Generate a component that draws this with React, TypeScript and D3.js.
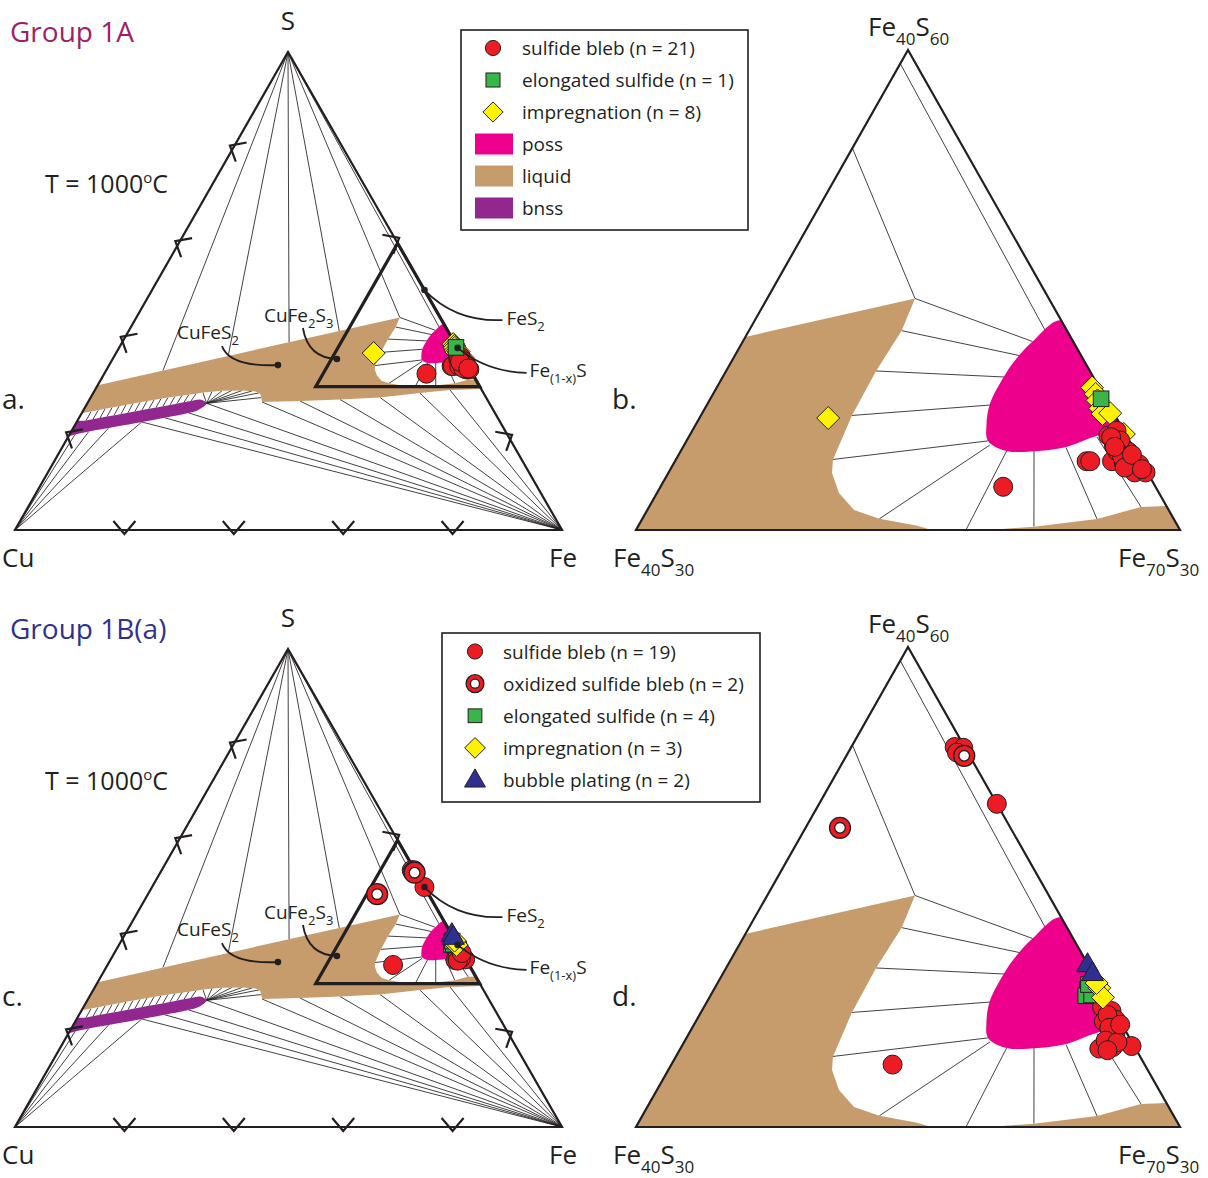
import React from 'react';
import * as d3 from 'd3';

// Compositions are [Fe, S] in wt.%; Cu is the remainder.
type Comp = [number, number];
type Pt = [number, number];

const INK = '#231f20';
const FONT = "'Open Sans', 'Noto Sans', 'DejaVu Sans', sans-serif";
const FILL = {
  bleb: '#ed1c24',
  elongated: '#39b54a',
  impregnation: '#fff200',
  bubble: '#2e3192',
  poss: '#ec008c',
  liquid: '#c69c6d',
  bnss: '#92278f',
};

// ---------- Cu–Fe–S phase relations at 1000 °C ----------
const liquidField: Comp[] = [
  [0, 30.3], [48.15, 44.47], [48.42, 42.46], [48.27, 39.94], [48.33, 37.16], [48.66, 34.41],
  [49.03, 33.56], [50.04, 32.31], [51.4, 31.25], [53.07, 30.7], [55.3, 30.28], [56.2, 30.03],
  [57.8, 29.8], [59.5, 30.0], [61.84, 30.21], [65.08, 30.69], [67.13, 31.44], [68.5, 31.5],
  [70.5, 29.5], [64.9, 29.29], [59.7, 28.66], [52.9, 27.72], [45.8, 27.3], [38.63, 26.99],
  [31.8, 26.78], [31.2, 27.7], [30.6, 28.5], [29.5, 29.0], [26.95, 29.2], [23.3, 29.12],
  [20.0, 28.77], [18.86, 28.51], [14.13, 27.72], [9.51, 26.74], [4.95, 25.61], [0, 24.4],
];

const possField: Comp[] = [
  [56.9, 43.1], [55.98, 41.78], [55.6, 40.6], [55.5, 39.71], [55.57, 37.9], [56.06, 36.53],
  [56.63, 35.57], [57.97, 34.94], [59.7, 34.94], [61.03, 35.15], [62.48, 35.89], [63.35, 36.12],
  [63.6, 36.4], [60.2, 39.8],
];

const bnssField: Comp[] = [
  [-1.5, 22.5], [1.56, 22.89], [4.98, 23.72], [8.41, 24.54], [11.84, 25.36], [15.28, 26.17],
  [18.71, 26.99], [20.4, 27.25], [21.8, 26.5], [21.0, 25.1], [19.5, 24.5], [15.6, 23.5],
  [11.9, 22.6], [8.0, 21.7], [4.5, 20.9], [1.0, 20.0], [-1.5, 19.4],
];

// tie lines from the S apex to the liquid / poss
const sulfurTieEnds: Comp[] = [
  [10.4, 33.36], [20.8, 36.42], [30.5, 39.28], [38.5, 41.63], [48.15, 44.47], [56.4, 42.4],
];

// liquid – poss tie lines
const liquidPossTies: [Comp, Comp][] = [
  [[48.15, 44.47], [55.98, 41.78]],
  [[48.42, 42.46], [55.8, 40.88]],
  [[48.27, 39.94], [55.57, 39.56]],
  [[48.33, 37.16], [55.62, 37.81]],
  [[48.66, 34.41], [56.63, 35.57]],
  [[53.07, 30.7], [56.86, 35.31]],
  [[58.2, 29.9], [57.97, 34.94]],
  [[61.84, 30.21], [59.48, 34.94]],
  [[65.08, 30.69], [61.14, 35.15]],
  [[67.13, 31.44], [62.52, 35.81]],
];

// bnss – liquid tie lines
const bnssLiquidTies: [Comp, Comp][] = [
  [[1.56, 22.89], [1.55, 24.73]], [[2.7, 23.16], [2.69, 25.02]], [[3.85, 23.43], [3.82, 25.31]],
  [[4.98, 23.72], [4.95, 25.61]], [[6.12, 24.0], [6.09, 25.9]], [[7.27, 24.27], [7.22, 26.19]],
  [[8.41, 24.54], [8.35, 26.49]], [[9.56, 24.81], [9.51, 26.74]], [[10.7, 25.08], [10.66, 26.99]],
  [[11.84, 25.36], [11.82, 27.24]], [[12.99, 25.63], [12.98, 27.47]], [[14.13, 25.9], [14.13, 27.72]],
  [[15.28, 26.17], [15.29, 27.97]], [[16.42, 26.44], [16.46, 28.2]], [[17.56, 26.72], [17.65, 28.37]],
  [[18.71, 26.99], [18.86, 28.51]],
];
const bnssTip: Comp = [21.8, 26.5];
const bnssTipTieEnds: Comp[] = [
  [20.0, 28.77], [21.55, 28.97], [23.3, 29.12], [25.1, 29.22], [26.95, 29.2], [28.8, 29.05],
  [30.35, 28.7], [31.2, 27.7],
];

// tie lines to the Fe and Cu apices
const ironTieEnds: Comp[] = [
  [11.9, 22.6], [15.6, 23.5], [19.5, 24.5], [21.8, 26.5], [31.8, 26.78], [38.63, 26.99],
  [45.8, 27.3], [52.9, 27.72], [59.7, 28.66], [64.9, 29.29],
];
const copperTieEnds: Comp[] = [[1.0, 20.0], [3.2, 20.6], [6.45, 21.3], [11.9, 22.6]];

// reference minerals
const mineralNames = ['CuFeS2', 'CuFe2S3', 'FeS2', 'Fe(1-x)S'];
const mineralComps: Comp[] = [[30.85, 34.5], [41.0, 35.77], [49.8, 50.2], [61.9, 38.1]];

// arrows on the binary joins
const chevronSites: Comp[] = [
  [0, 20], [0, 40], [0, 60], [0, 80], [20, 0], [40, 0], [60, 0], [80, 0], [80.5, 19.5], [39.3, 60.7],
];

// ---------- Group 1A analyses ----------
const bleb1A: Comp[] = [
  [58.9, 32.7], [62.7, 34.3], [62.9, 34.3], [63.1, 35.9], [63.4, 36.2], [63.7, 35.3], [64.1, 34.3],
  [64.7, 34.9], [65.1, 34.3], [64.8, 34.2], [65.7, 34.1], [65.7, 33.6], [66.3, 33.6], [63.9, 35.6],
  [64.1, 34.9], [64.5, 34.6], [65.0, 33.9], [63.3, 35.8], [65.0, 34.7], [63.8, 35.2], [66.0, 33.8],
];
const elongated1A: Comp[] = [[61.55, 38.2]];
const impregnation1A: Comp[] = [
  [47.1, 37.0], [60.7, 38.9], [61.1, 38.5], [61.4, 38.1], [61.8, 37.6], [62.1, 37.25], [62.5, 37.3],
  [63.9, 36.0],
];

// ---------- Group 1B(a) analyses ----------
const bleb1B: Comp[] = [
  [45.7, 53.75], [46.2, 53.7], [49.8, 50.2], [52.2, 33.9], [61.95, 37.5], [62.6, 37.25], [62.5, 36.6],
  [63.1, 36.7], [63.5, 35.9], [63.1, 34.9], [63.8, 35.0], [64.8, 35.06], [62.5, 37.0], [63.0, 36.2],
  [63.2, 35.4], [46.0, 53.4], [63.9, 35.3], [63.6, 34.8], [63.5, 36.4],
];
const oxidized1B: Comp[] = [[46.5, 53.2], [41.9, 48.7]];
const elongated1B: Comp[] = [[60.6, 38.6], [60.7, 38.2], [61.0, 38.25], [60.5, 38.9]];
const impregnation1B: Comp[] = [[61.2, 38.7], [61.7, 38.1], [60.9, 39.0]];
const bubble1B: Comp[] = [[59.85, 40.1], [60.4, 39.55]];

type Kind = 'bleb' | 'oxidized' | 'elongated' | 'impregnation' | 'bubble';
type Layer = { kind: Kind; pts: Comp[] };

const group1A: Layer[] = [
  { kind: 'impregnation', pts: impregnation1A },
  { kind: 'bleb', pts: bleb1A },
  { kind: 'elongated', pts: elongated1A },
];
const group1B: Layer[] = [
  { kind: 'bleb', pts: bleb1B },
  { kind: 'oxidized', pts: oxidized1B },
  { kind: 'elongated', pts: elongated1B },
  { kind: 'impregnation', pts: impregnation1B },
  { kind: 'bubble', pts: bubble1B },
];

const legendA: { kind: Kind | 'poss' | 'liquid' | 'bnss'; label: string }[] = [
  { kind: 'bleb', label: 'sulfide bleb (n = 21)' },
  { kind: 'elongated', label: 'elongated sulfide (n = 1)' },
  { kind: 'impregnation', label: 'impregnation (n = 8)' },
  { kind: 'poss', label: 'poss' },
  { kind: 'liquid', label: 'liquid' },
  { kind: 'bnss', label: 'bnss' },
];
const legendB: { kind: Kind; label: string }[] = [
  { kind: 'bleb', label: 'sulfide bleb (n = 19)' },
  { kind: 'oxidized', label: 'oxidized sulfide bleb (n = 2)' },
  { kind: 'elongated', label: 'elongated sulfide (n = 4)' },
  { kind: 'impregnation', label: 'impregnation (n = 3)' },
  { kind: 'bubble', label: 'bubble plating (n = 2)' },
];

const fullCorners: Comp[] = [[0, 0], [100, 0], [0, 100]];
const zoomCorners: Comp[] = [[40, 30], [70, 30], [40, 60]];

// ---------- projection ----------
function makeTernary(cuCorner: Pt, feCorner: Pt, sCorner: Pt, feDomain: [number, number], sDomain: [number, number]) {
  const u = d3.scaleLinear().domain(feDomain).range([0, 1]);
  const v = d3.scaleLinear().domain(sDomain).range([0, 1]);
  return (c: Comp): Pt => {
    const a = u(c[0]);
    const b = v(c[1]);
    return [
      cuCorner[0] + (feCorner[0] - cuCorner[0]) * a + (sCorner[0] - cuCorner[0]) * b,
      cuCorner[1] + (feCorner[1] - cuCorner[1]) * a + (sCorner[1] - cuCorner[1]) * b,
    ];
  };
}
type Proj = (c: Comp) => Pt;

// ---------- marks ----------
function Marker({ kind, p, k = 1 }: { kind: Kind; p: Pt; k?: number }) {
  const [x, y] = p;
  if (kind === 'bleb') return <circle cx={x} cy={y} r={9.5 * k} fill={FILL.bleb} stroke={INK} strokeWidth={1} />;
  if (kind === 'oxidized')
    return (
      <g>
        <circle cx={x} cy={y} r={10.5 * k} fill={FILL.bleb} stroke={INK} strokeWidth={1.3} />
        <circle cx={x} cy={y} r={5.3 * k} fill="#fff" stroke={INK} strokeWidth={1.3} />
      </g>
    );
  if (kind === 'elongated') {
    const h = 7.8 * k;
    return <rect x={x - h} y={y - h} width={2 * h} height={2 * h} fill={FILL.elongated} stroke={INK} strokeWidth={1} />;
  }
  if (kind === 'impregnation') {
    const h = 11.5 * k;
    return <path d={`M${x},${y - h}L${x + h},${y}L${x},${y + h}L${x - h},${y}Z`} fill={FILL.impregnation} stroke={INK} strokeWidth={1} />;
  }
  const s = 11 * k;
  const hgt = s * Math.sqrt(3);
  return (
    <path
      d={`M${x},${y - (hgt * 2) / 3}L${x + s},${y + hgt / 3}L${x - s},${y + hgt / 3}Z`}
      fill={FILL.bubble}
      stroke={INK}
      strokeWidth={1}
      strokeLinejoin="round"
    />
  );
}

function Fields({ proj, clipId }: { proj: Proj; clipId: string }) {
  const open = d3.line<Comp>().x((c) => proj(c)[0]).y((c) => proj(c)[1]);
  const closed = d3.line<Comp>().x((c) => proj(c)[0]).y((c) => proj(c)[1]).curve(d3.curveLinearClosed);
  const smooth = d3
    .line<Comp>()
    .x((c) => proj(c)[0])
    .y((c) => proj(c)[1])
    .curve(d3.curveCatmullRomClosed.alpha(0.5));
  const apexS: Comp = [0, 100];
  const apexFe: Comp = [100, 0];
  const apexCu: Comp = [0, 0];
  const ties: [Comp, Comp][] = [
    ...sulfurTieEnds.map((e) => [apexS, e] as [Comp, Comp]),
    ...liquidPossTies,
    ...bnssLiquidTies,
    ...bnssTipTieEnds.map((e) => [bnssTip, e] as [Comp, Comp]),
    ...ironTieEnds.map((e) => [apexFe, e] as [Comp, Comp]),
    ...copperTieEnds.map((e) => [apexCu, e] as [Comp, Comp]),
  ];
  return (
    <g clipPath={`url(#${clipId})`}>
      <g fill="none" stroke={INK} strokeWidth={0.85}>
        {ties.map((t, i) => (
          <path key={i} d={open(t) || ''} />
        ))}
      </g>
      <path d={closed(liquidField) || ''} fill={FILL.liquid} />
      <path d={smooth(possField) || ''} fill={FILL.poss} />
      <path d={smooth(bnssField) || ''} fill={FILL.bnss} />
    </g>
  );
}

function Chevrons({ proj }: { proj: Proj }) {
  const [cu, fe, s] = fullCorners.map(proj);
  const g: Pt = [(cu[0] + fe[0] + s[0]) / 3, (cu[1] + fe[1] + s[1]) / 3];
  return (
    <g fill="none" stroke={INK} strokeWidth={2.2} strokeLinejoin="miter">
      {chevronSites.map((c, i) => {
        const p = proj(c);
        let a: Pt, b: Pt;
        if (c[0] === 0) [a, b] = [cu, s];
        else if (c[1] === 0) [a, b] = [cu, fe];
        else [a, b] = [fe, s];
        const len = Math.hypot(b[0] - a[0], b[1] - a[1]);
        const d: Pt = [(b[0] - a[0]) / len, (b[1] - a[1]) / len];
        let n: Pt = [-d[1], d[0]];
        if ((g[0] - p[0]) * n[0] + (g[1] - p[1]) * n[1] < 0) n = [-n[0], -n[1]];
        const arm = 11;
        const depth = 9;
        const tip = 4;
        const apex: Pt = [p[0] - n[0] * tip, p[1] - n[1] * tip];
        const l: Pt = [p[0] + n[0] * depth + d[0] * arm, p[1] + n[1] * depth + d[1] * arm];
        const r: Pt = [p[0] + n[0] * depth - d[0] * arm, p[1] + n[1] * depth - d[1] * arm];
        return <path key={i} d={`M${l}L${apex}L${r}`} />;
      })}
    </g>
  );
}

const mineralLayout: Record<string, { pieces: [string, boolean][]; text: Pt; curve: (d: Pt) => string }> = {
  CuFeS2: {
    pieces: [['CuFeS', false], ['2', true]],
    text: [-101, -26],
    curve: ([x, y]) => `M${x - 56},${y - 19}Q${x - 48},${y + 2} ${x},${y}`,
  },
  CuFe2S3: {
    pieces: [['CuFe', false], ['2', true], ['S', false], ['3', true]],
    text: [-73, -37],
    curve: ([x, y]) => `M${x - 34},${y - 31}Q${x - 29},${y - 1} ${x},${y}`,
  },
  FeS2: {
    pieces: [['FeS', false], ['2', true]],
    text: [82, 35],
    curve: ([x, y]) => `M${x},${y}Q${x + 31},${y + 32} ${x + 78},${y + 30}`,
  },
  'Fe(1-x)S': {
    pieces: [['Fe', false], ['(1-x)', true], ['S', false]],
    text: [72, 29],
    curve: ([x, y]) => `M${x},${y}Q${x + 29},${y + 24} ${x + 69},${y + 25}`,
  },
};

function SubText({ x, y, pieces, size, sub, shift }: { x: number; y: number; pieces: [string, boolean][]; size: number; sub: number; shift: number }) {
  let level = 0;
  return (
    <text x={x} y={y} fontSize={size} fill={INK}>
      {pieces.map(([t, isSub], i) => {
        const target = isSub ? shift : 0;
        const dy = target - level;
        level = target;
        return (
          <tspan key={i} dy={dy} fontSize={isSub ? sub : size}>
            {t}
          </tspan>
        );
      })}
    </text>
  );
}

function MineralLabels({ proj }: { proj: Proj }) {
  return (
    <g>
      {mineralNames.map((name, i) => {
        const dot = proj(mineralComps[i]);
        const lay = mineralLayout[name];
        return (
          <g key={name}>
            <path d={lay.curve(dot)} fill="none" stroke={INK} strokeWidth={1.8} />
            <circle cx={dot[0]} cy={dot[1]} r={3.3} fill={INK} />
            <SubText x={dot[0] + lay.text[0]} y={dot[1] + lay.text[1]} pieces={lay.pieces} size={19} sub={13} shift={6} />
          </g>
        );
      })}
    </g>
  );
}

function Panel({ proj, corners, clipId, layers, full }: { proj: Proj; corners: Comp[]; clipId: string; layers: Layer[]; full: boolean }) {
  const outline = corners.map(proj);
  return (
    <g>
      <defs>
        <clipPath id={clipId}>
          <polygon points={outline.join(' ')} />
        </clipPath>
      </defs>
      <Fields proj={proj} clipId={clipId} />
      <polygon points={outline.join(' ')} fill="none" stroke={INK} strokeWidth={2.2} />
      {full && <Chevrons proj={proj} />}
      {full && <polygon points={zoomCorners.map(proj).join(' ')} fill="none" stroke={INK} strokeWidth={3.2} strokeLinejoin="miter" />}
      {layers.map((layer, li) => (
        <g key={li}>
          {layer.pts.map((c, i) => (
            <Marker key={i} kind={layer.kind} p={proj(c)} />
          ))}
        </g>
      ))}
      {full && <MineralLabels proj={proj} />}
    </g>
  );
}

function TempLabel({ y }: { y: number }) {
  return (
    <text x={45} y={y} fontSize={25} fill={INK}>
      T = 1000
      <tspan fontSize={15} dy={-10}>o</tspan>
      <tspan dy={10}>C</tspan>
    </text>
  );
}

function CornerLabels({ dy }: { dy: number }) {
  return (
    <g>
      <text x={288} y={30 + dy} fontSize={26} textAnchor="middle" fill={INK}>S</text>
      <text x={2} y={567 + dy} fontSize={26} fill={INK}>Cu</text>
      <text x={549} y={567 + dy} fontSize={26} fill={INK}>Fe</text>
      <SubText x={868} y={36 + dy} pieces={[['Fe', false], ['40', true], ['S', false], ['60', true]]} size={26} sub={17} shift={9} />
      <SubText x={613} y={567 + dy} pieces={[['Fe', false], ['40', true], ['S', false], ['30', true]]} size={26} sub={17} shift={9} />
      <SubText x={1118} y={567 + dy} pieces={[['Fe', false], ['70', true], ['S', false], ['30', true]]} size={26} sub={17} shift={9} />
    </g>
  );
}

function LegendA() {
  const rowY = d3.scaleLinear().domain([0, 5]).range([48, 208]);
  return (
    <g>
      <rect x={461} y={30} width={287} height={200} fill="#fff" stroke={INK} strokeWidth={1.6} />
      {legendA.map((item, i) => {
        const cy = rowY(i);
        let sym: React.ReactNode;
        if (item.kind === 'poss' || item.kind === 'liquid' || item.kind === 'bnss')
          sym = <rect x={475} y={cy - 10.5} width={38} height={21} fill={FILL[item.kind]} />;
        else {
          const k = item.kind === 'bleb' ? 0.8 : item.kind === 'elongated' ? 0.9 : 0.88;
          sym = <Marker kind={item.kind} p={[493, cy]} k={k} />;
        }
        return (
          <g key={i}>
            {sym}
            <text x={522} y={cy + 7} fontSize={19} fill={INK}>{item.label}</text>
          </g>
        );
      })}
    </g>
  );
}

function LegendB() {
  const rowY = d3.scaleLinear().domain([0, 4]).range([651.5, 780]);
  const scale: Record<Kind, number> = { bleb: 0.8, oxidized: 0.85, elongated: 0.88, impregnation: 0.9, bubble: 0.95 };
  return (
    <g>
      <rect x={442} y={633} width={318} height={169} fill="#fff" stroke={INK} strokeWidth={1.6} />
      {legendB.map((item, i) => {
        const cy = rowY(i);
        return (
          <g key={i}>
            <Marker kind={item.kind} p={[475, item.kind === 'bubble' ? cy + 1 : cy]} k={scale[item.kind]} />
            <text x={503} y={cy + 7} fontSize={19} fill={INK}>{item.label}</text>
          </g>
        );
      })}
    </g>
  );
}

export default function App() {
  const panels = [0, 597].map((dy, gi) => ({
    dy,
    layers: gi === 0 ? group1A : group1B,
    full: makeTernary([15, 530 + dy], [562, 530 + dy], [288, 52 + dy], [0, 100], [0, 100]),
    zoom: makeTernary([636, 530 + dy], [1180, 530 + dy], [908, 50 + dy], [40, 70], [30, 60]),
  }));
  return (
    <svg
      width={1208}
      height={1178}
      viewBox="0 0 1208 1178"
      style={{ position: 'absolute', left: 0, top: 0, display: 'block' }}
      fontFamily={FONT}
    >
      <rect width={1208} height={1178} fill="#fff" />
      {panels.map((p, i) => (
        <g key={i}>
          <Panel proj={p.full} corners={fullCorners} clipId={`full-${i}`} layers={p.layers} full />
          <Panel proj={p.zoom} corners={zoomCorners} clipId={`zoom-${i}`} layers={p.layers} full={false} />
          <CornerLabels dy={p.dy} />
          <TempLabel y={193 + p.dy} />
        </g>
      ))}
      <text x={10} y={42} fontSize={28} fill="#9e1f63">Group 1A</text>
      <text x={10} y={639} fontSize={28} fill="#2e3192">Group 1B(a)</text>
      <text x={2} y={409} fontSize={28} fill={INK}>a.</text>
      <text x={612} y={409} fontSize={28} fill={INK}>b.</text>
      <text x={2} y={1006} fontSize={28} fill={INK}>c.</text>
      <text x={612} y={1006} fontSize={28} fill={INK}>d.</text>
      <LegendA />
      <LegendB />
    </svg>
  );
}
